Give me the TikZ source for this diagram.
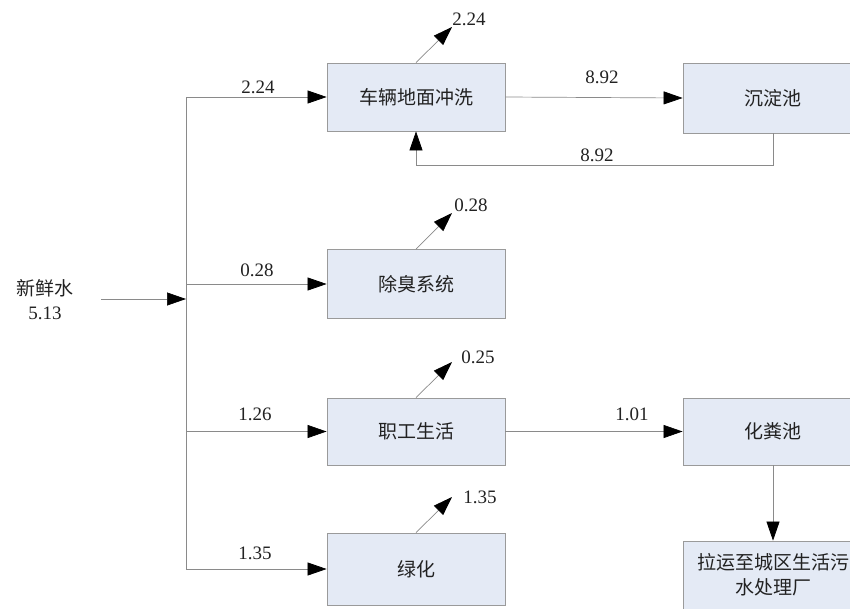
\documentclass[tikz,border=0pt]{standalone}
\usepackage{fontspec}
\setmainfont{Liberation Serif}
\newfontfamily\cjk{Noto Sans CJK SC}
\usetikzlibrary{arrows.meta}
\definecolor{boxfill}{HTML}{E4EAF5}
\definecolor{boxgray}{HTML}{9A9A9A}
\definecolor{linegray}{HTML}{8A8A8A}
\definecolor{txt}{HTML}{222222}
\begin{document}
\begin{tikzpicture}[x=1pt,y=-1pt,
  box/.style={draw=boxgray, fill=boxfill, line width=0.8pt, minimum width=178pt, minimum height=68pt, inner sep=0pt, font=\cjk\fontsize{19}{25}\selectfont, text=txt, align=center},
  flow/.style={draw=linegray, line width=0.7pt, -{Triangle[length=19pt,width=13pt,color=black]}},
  plain/.style={draw=linegray, line width=0.7pt},
  num/.style={font=\fontsize{19}{20}\selectfont, inner sep=0pt, text=txt},
  cn/.style={font=\cjk\fontsize{19}{20}\selectfont, inner sep=0pt, text=txt}
]
\useasboundingbox (0,0) rectangle (850,608);
% boxes
\node[box] (wash) at (416,97) {车辆地面冲洗};
\node[box, minimum width=180pt, minimum height=70pt] (settle) at (773,98) {沉淀池};
\node[box, minimum height=69pt] (deod) at (416,284) {除臭系统};
\node[box, minimum height=67pt] (staff) at (416,431.5) {职工生活};
\node[box, minimum width=180pt, minimum height=67pt] (septic) at (773,431.5) {化粪池};
\node[box, minimum width=180pt, minimum height=80pt, text depth=14pt] (plant) at (773,581) {拉运至城区生活污\\水处理厂};
\node[box, minimum height=72pt] (green) at (416,569) {绿化};
% source
\node[cn] (src) at (45,288) {新鲜水};
\node[num] (srcv) at (45,313) {5.13};
\coordinate (in) at (101,299);
\coordinate (j) at (186,299);
\coordinate (t1) at (186,97);
\coordinate (t2) at (186,284);
\coordinate (t3) at (186,431.5);
\coordinate (t4) at (186,569);
\draw[flow] (in) -- (j);
\draw[plain] (t1) -- (t4);
\draw[flow] (t1) -- (wash.west);
\draw[flow] (t2) -- (deod.west);
\draw[flow] (t3) -- (staff.west);
\draw[flow] (t4) -- (green.west);
\node[num] (l1) at (258,87) {2.24};
\node[num] (l2) at (257,270) {0.28};
\node[num] (l3) at (255,414) {1.26};
\node[num] (l4) at (255,553) {1.35};
% losses
\coordinate (o1) at (452,27);
\coordinate (o2) at (452,213);
\coordinate (o3) at (452,362);
\coordinate (o4) at (452,497);
\draw[flow] (wash.north) -- (o1);
\draw[flow] (deod.north) -- (o2);
\draw[flow] (staff.north) -- (o3);
\draw[flow] (green.north) -- (o4);
\node[num] (d1) at (469,19) {2.24};
\node[num] (d2) at (471,205) {0.28};
\node[num] (d3) at (478,357) {0.25};
\node[num] (d4) at (480,497) {1.35};
% circulation
\draw[flow] (wash.east) -- (settle.west);
\node[num] (c1) at (602,77) {8.92};
\coordinate (fb) at (416,165);
\draw[flow] (settle.south) |- (fb) -- (wash.south);
\node[num] (c2) at (597,155) {8.92};
% sewage
\draw[flow] (staff.east) -- (septic.west);
\node[num] (s1) at (632,414) {1.01};
\draw[flow] (septic.south) -- (plant.north);
\end{tikzpicture}
\end{document}
